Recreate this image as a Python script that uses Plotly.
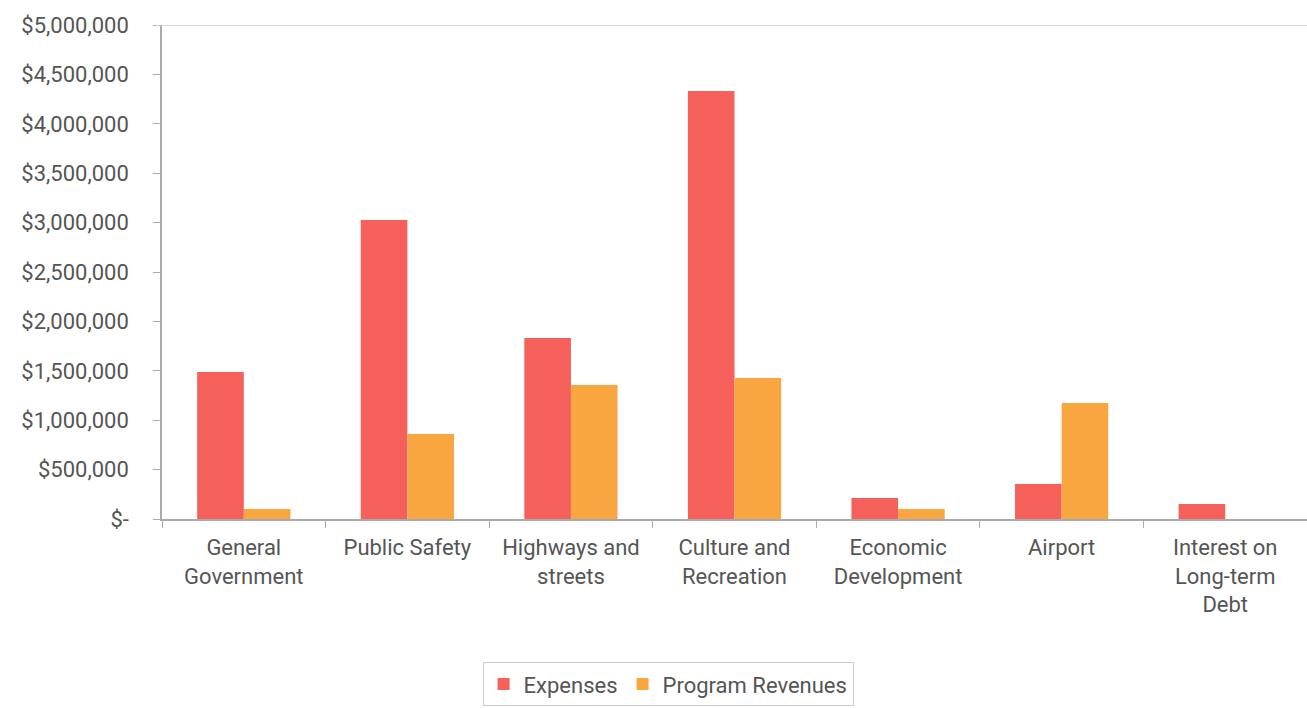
import plotly.graph_objects as go

categories = [
    "General<br>Government",
    "Public Safety",
    "Highways and<br>streets",
    "Culture and<br>Recreation",
    "Economic<br>Development",
    "Airport",
    "Interest on<br>Long-term<br>Debt",
]
expenses = [1488000, 3026000, 1832000, 4332000, 212000, 354000, 152000]
program_revenues = [100000, 860000, 1356000, 1427000, 100000, 1174000, 0]

y_ticks = [0, 500000, 1000000, 1500000, 2000000, 2500000, 3000000, 3500000, 4000000, 4500000, 5000000]
y_labels = ["$-", "$500,000", "$1,000,000", "$1,500,000", "$2,000,000", "$2,500,000",
            "$3,000,000", "$3,500,000", "$4,000,000", "$4,500,000", "$5,000,000"]

fig = go.Figure()
fig.add_trace(go.Bar(name="Expenses", x=categories, y=expenses, marker_color="#F5605A",
                     marker_line_width=0))
fig.add_trace(go.Bar(name="Program Revenues", x=categories, y=program_revenues,
                     marker_color="#F9A540", marker_line_width=0))

font_color = "#555555"
fig.update_layout(
    width=1307, height=708,
    margin=dict(l=162, r=0, t=25, b=189),
    paper_bgcolor="white", plot_bgcolor="white",
    barmode="group", bargap=0.43, bargroupgap=0,
    font=dict(family="Roboto", size=22, color=font_color),
    showlegend=True,
    legend=dict(orientation="h", x=0.442, xanchor="center", y=-0.29, yanchor="top",
                bordercolor="#cccccc", borderwidth=1, font=dict(size=22, color=font_color),
                itemwidth=30, tracegroupgap=0),
    xaxis=dict(showline=True, linecolor="#aaaaaa", linewidth=1.5, ticks="outside",
               tickson="boundaries", ticklen=7, tickcolor="#aaaaaa", ticklabelstandoff=8,
               tickfont=dict(size=22, color=font_color), showgrid=False),
    yaxis=dict(range=[0, 5000000], tickvals=y_ticks, ticktext=y_labels, showline=True,
               linecolor="#aaaaaa", linewidth=1.5, ticks="outside", ticklen=7,
               tickcolor="#aaaaaa", showgrid=False, zeroline=False, ticklabelstandoff=20,
               tickfont=dict(size=22, color=font_color)),
)
fig.add_shape(type="line", xref="paper", yref="y", x0=-0.006, x1=1, y0=5000000, y1=5000000,
              line=dict(color="#cccccc", width=1.5))

fig.write_html("out.html")
